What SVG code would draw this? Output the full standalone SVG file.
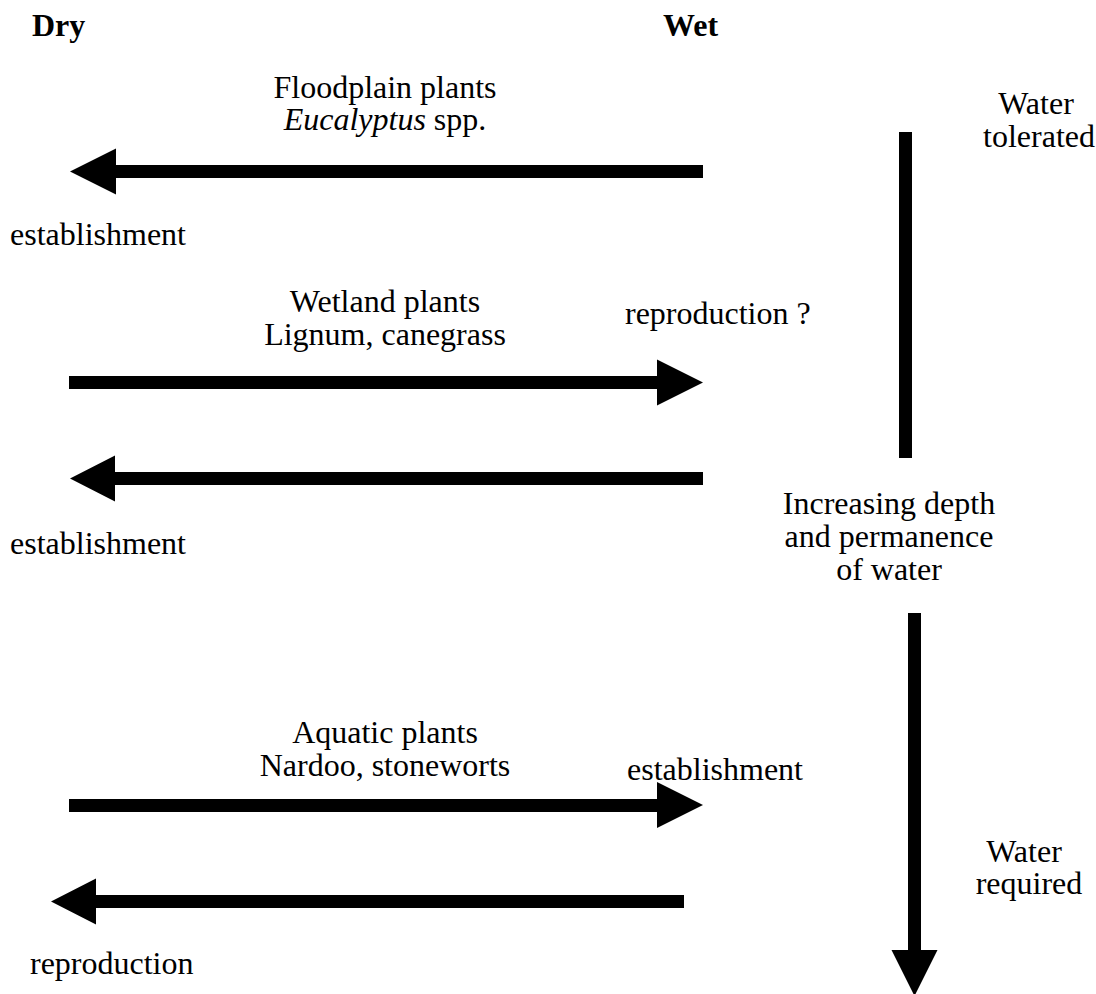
<svg xmlns="http://www.w3.org/2000/svg" width="1096" height="994" viewBox="0 0 1096 994">
<style>
text{font-family:"Liberation Serif","Times New Roman",serif;font-size:32px;fill:#000}
.b{font-weight:bold}
.c{text-anchor:middle}
.arrow{fill:#000}
</style>
<rect width="1096" height="994" fill="#fff"/>
<g id="headers">
<text class="b" x="32" y="36">Dry</text>
<text class="b" x="663" y="36">Wet</text>
</g>
<g id="floodplain">
<text class="c" x="385" y="98">Floodplain plants</text>
<text class="c" x="385" y="130"><tspan font-style="italic">Eucalyptus</tspan> spp.</text>
</g>
<g id="wetland">
<text class="c" x="385" y="312">Wetland plants</text>
<text class="c" x="385" y="345">Lignum, canegrass</text>
</g>
<g id="aquatic">
<text class="c" x="385" y="743">Aquatic plants</text>
<text class="c" x="385" y="776">Nardoo, stoneworts</text>
</g>
<g id="labels">
<text x="10" y="245">establishment</text>
<text x="625" y="324">reproduction ?</text>
<text x="10" y="554">establishment</text>
<text x="627" y="780">establishment</text>
<text x="30" y="974">reproduction</text>
</g>
<g id="water-axis">
<text class="c" x="1036" y="114">Water</text>
<text class="c" x="1039" y="147">tolerated</text>
<text class="c" x="889" y="514">Increasing depth</text>
<text class="c" x="889" y="547">and permanence</text>
<text class="c" x="889" y="580">of water</text>
<text class="c" x="1024" y="862">Water</text>
<text class="c" x="1029" y="894">required</text>
</g>
<g id="connectors" class="arrow">
<path d="M703,165 H116 V148.5 L70,171.5 L116,194.5 V178 H703 Z"/>
<path d="M69,376 H657 V359.5 L703,382.5 L657,405.5 V389 H69 Z"/>
<path d="M703,472 H115 V455.5 L70,478.5 L115,501.5 V485 H703 Z"/>
<path d="M69,799 H657 V782 L703,805 L657,828 V812 H69 Z"/>
<path d="M684,895 H96 V878.5 L51,901.5 L96,924.5 V908 H684 Z"/>
<rect x="899" y="132" width="13" height="326"/>
<path d="M908,613 H921 V950 H937.5 L914.5,996 L891.5,950 H908 Z"/>
</g>
</svg>
